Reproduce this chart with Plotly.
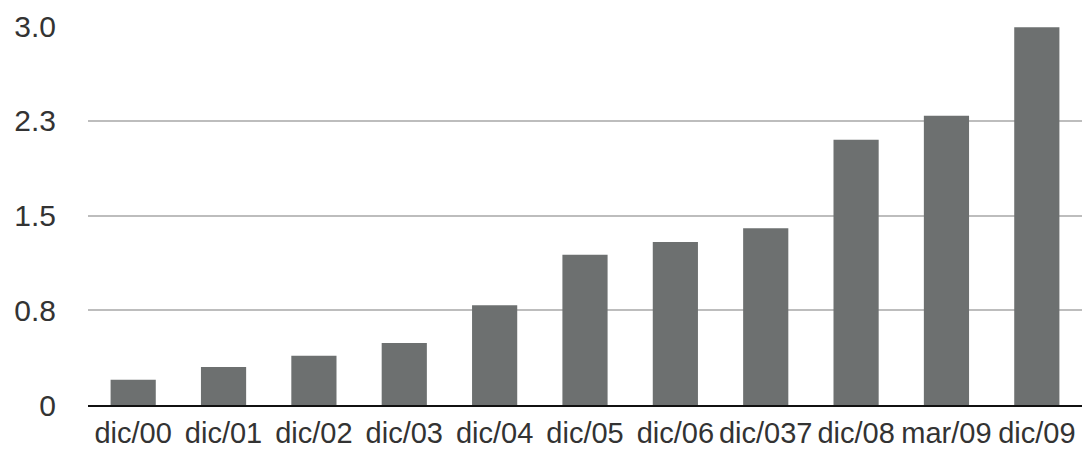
import plotly.graph_objects as go

categories = ["dic/00", "dic/01", "dic/02", "dic/03", "dic/04", "dic/05",
              "dic/06", "dic/037", "dic/08", "mar/09", "dic/09"]
values = [0.20, 0.30, 0.39, 0.49, 0.79, 1.19, 1.29, 1.40, 2.10, 2.29, 2.99]
y_tickvals = [0, 0.75, 1.5, 2.25, 3.0]
y_ticktext = ["0", "0.8", "1.5", "2.3", "3.0"]

fig = go.Figure()
fig.add_trace(go.Bar(
    x=categories, y=values, width=0.5,
    marker=dict(color="#6d7070", line=dict(width=0)),
))

fig.update_layout(
    width=1082, height=449,
    margin=dict(l=88, r=0, t=26, b=44),
    paper_bgcolor="white", plot_bgcolor="white",
    showlegend=False,
    font=dict(family="Liberation Sans, Arial, sans-serif", size=30, color="#333333"),
)
fig.update_xaxes(
    type="category", range=[-0.5, 10.5], automargin=False, tickangle=0,
    showgrid=False, showline=True, linecolor="#111111", linewidth=2,
    ticks="outside", ticklen=1, tickcolor="rgba(0,0,0,0)",
    tickfont=dict(size=29, color="#333333"),
)
fig.update_yaxes(
    range=[0, 3.0], tickvals=y_tickvals, ticktext=y_ticktext, automargin=False,
    showgrid=True, gridcolor="#bdbdbd", gridwidth=1.5,
    zeroline=False, showline=False,
    ticks="outside", ticklen=25, tickcolor="rgba(0,0,0,0)",
    tickfont=dict(size=30, color="#333333"),
)

fig.write_html("out.html")
